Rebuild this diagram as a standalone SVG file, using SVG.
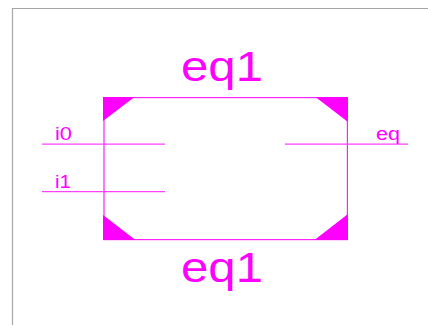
<svg xmlns="http://www.w3.org/2000/svg" width="428" height="325" viewBox="0 0 428 325">
<style>
text{font-family:"Liberation Sans",Arial,sans-serif;fill:#ff00ff}
.big{font-size:42px}
.small{font-size:18px}
.pin{stroke:#ff40ff;stroke-width:1.2;fill:none}
.box{stroke:#ff20ff;stroke-width:1.2;fill:none}
.c{fill:#ff00ff}
</style>
<rect width="428" height="325" fill="#fff"/>
<path d="M12.500 325V8.500H428" fill="none" stroke="#a6a6a6" stroke-width="1.200"/>
<g id="eq1">
<rect class="box" x="104" y="97.600" width="243.400" height="142" />
<path class="c" d="M103 97H134.500L103 121Z"/>
<path class="c" d="M315.500 97H348V122Z"/>
<path class="c" d="M103 215L135.500 240H103Z"/>
<path class="c" d="M348 214V240H314.500Z"/>
<text class="big" x="181" y="81" textLength="82" lengthAdjust="spacingAndGlyphs">eq1</text>
<text class="big" x="181" y="282" textLength="82" lengthAdjust="spacingAndGlyphs">eq1</text>
</g>
<g id="connectors">
<path class="pin" d="M42 144.200H165"/>
<path class="pin" d="M42 191.600H165"/>
<path class="pin" d="M285 144.200H408"/>
</g>
<g id="pin-i0"><text class="small" x="55" y="140" textLength="17" lengthAdjust="spacingAndGlyphs">i0</text></g>
<g id="pin-i1"><text class="small" x="55" y="187.500" textLength="16" lengthAdjust="spacingAndGlyphs">i1</text></g>
<g id="pin-eq"><text class="small" x="376" y="140" textLength="24" lengthAdjust="spacingAndGlyphs">eq</text></g>
</svg>
